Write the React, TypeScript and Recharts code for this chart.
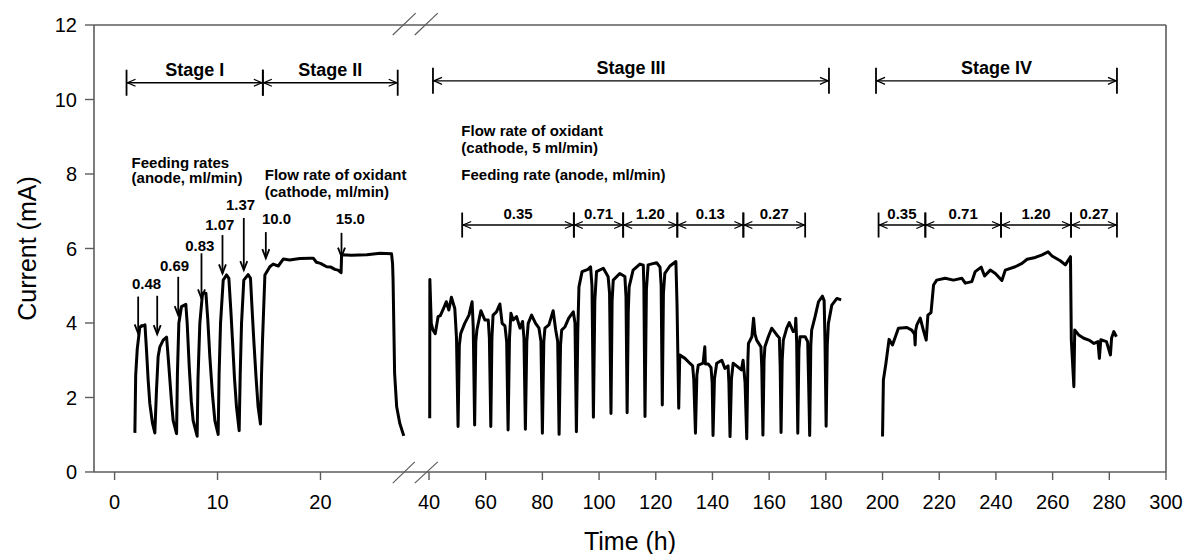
import { Label, Line, LineChart, ReferenceDot, ReferenceLine, XAxis, YAxis } from "recharts";

type Pt = [number, number];

// Stage I + II (left part of the broken time axis), [time h, current mA]
const stageOneTwo: Pt[] = [
    [1.97, 1.05], [2.05, 2.6], [2.2, 3.3], [2.45, 3.89], [2.7, 3.92], [2.95, 3.95], [3.1, 3.27], [3.26, 2.47],
    [3.42, 1.84], [3.68, 1.31], [3.91, 1.05],
    [4.07, 2.2], [4.23, 3.1], [4.4, 3.36], [4.72, 3.54], [5.05, 3.62], [5.2, 3.1], [5.37, 2.47], [5.55, 1.8],
    [5.69, 1.38], [6.02, 1.03],
    [6.1, 2.6], [6.24, 3.99], [6.5, 4.44], [6.92, 4.5], [7.05, 4.0], [7.25, 2.83], [7.45, 1.9], [7.63, 1.38],
    [8.02, 0.96],
    [8.1, 2.5], [8.28, 3.99], [8.54, 4.8], [8.87, 4.8], [9.05, 4.1], [9.25, 3.1], [9.5, 2.1], [9.74, 1.38],
    [10.06, 1.01],
    [10.15, 2.6], [10.29, 3.99], [10.55, 5.15], [10.87, 5.29], [11.1, 5.2], [11.3, 4.3], [11.45, 3.54],
    [11.65, 2.5], [11.84, 1.75], [12.1, 1.11],
    [12.2, 2.6], [12.33, 3.99], [12.55, 5.15], [12.97, 5.3], [13.2, 5.2], [13.35, 4.4], [13.52, 3.54],
    [13.75, 2.5], [13.94, 1.75], [14.17, 1.29],
    [14.27, 2.6], [14.37, 3.54], [14.6, 5.29], [15.08, 5.51], [15.4, 5.58], [15.9, 5.53], [16.4, 5.72],
    [17.0, 5.69], [18.0, 5.73], [19.0, 5.74], [19.3, 5.74], [19.6, 5.63], [20.0, 5.6], [20.6, 5.51],
    [21.0, 5.5], [21.4, 5.44], [21.7, 5.42], [22.0, 5.35], [22.05, 5.83], [23.0, 5.82], [24.5, 5.83],
    [25.8, 5.87], [26.9, 5.86], [27.0, 5.6], [27.05, 5.15], [27.2, 2.65], [27.4, 1.75], [27.7, 1.31],
    [28.09, 0.97],
];

// Stage III
const stageThree: Pt[] = [
    [40.25, 1.44], [40.3, 5.17], [40.8, 3.99], [41.4, 3.81], [42.2, 3.71], [43.2, 4.17], [44.0, 4.2],
    [44.9, 4.35], [46.1, 4.57], [47.0, 4.35], [47.9, 4.69], [49.1, 4.39], [49.7, 3.6], [50.25, 1.22],
    [50.7, 3.4], [51.2, 3.72], [52.6, 3.99], [54.1, 4.21], [55.2, 4.57], [55.6, 3.9], [56.1, 1.26],
    [56.5, 3.5], [56.9, 3.81], [58.3, 4.33], [59.7, 4.08], [60.9, 4.08], [61.3, 3.6], [61.8, 1.22],
    [62.2, 3.6], [62.6, 4.21], [63.8, 4.3], [65.0, 4.51], [65.8, 3.99], [66.8, 3.92], [67.4, 3.5],
    [67.9, 1.13], [68.4, 3.6], [68.9, 4.26], [69.7, 4.08], [70.9, 4.17], [72.1, 3.86], [73.0, 4.04],
    [73.5, 3.6], [74.0, 1.15], [74.5, 3.5], [75.0, 3.99], [76.2, 4.21], [77.6, 3.99], [78.8, 3.86],
    [79.5, 3.5], [80.0, 1.04], [80.5, 3.5], [80.9, 3.86], [82.3, 3.95], [83.8, 4.33], [84.7, 3.81],
    [85.4, 3.5], [85.9, 1.01], [86.4, 3.4], [86.8, 3.81], [88.0, 3.9], [89.3, 4.13], [90.9, 4.3],
    [91.5, 4.0], [92.0, 1.08], [92.5, 3.8], [92.9, 4.97], [94.0, 5.38], [96.1, 5.44], [97.0, 5.51],
    [97.5, 5.0], [98.0, 1.47], [98.5, 4.6], [99.1, 5.38], [101.5, 5.47], [103.2, 5.24], [103.7, 4.8],
    [104.2, 1.57], [104.6, 4.6], [105.0, 5.15], [107.3, 5.33], [109.1, 5.25], [109.5, 4.7], [109.9, 1.59],
    [110.3, 4.3], [110.6, 4.97], [112.0, 5.42], [114.4, 5.58], [115.6, 5.55], [115.8, 5.0], [116.2, 1.49],
    [116.7, 4.9], [117.3, 5.56], [120.3, 5.62], [121.5, 5.5], [121.9, 5.0], [122.3, 1.8], [122.7, 4.8],
    [123.2, 5.33], [125.0, 5.53], [127.1, 5.65], [127.5, 4.5], [128.1, 1.71], [128.4, 2.9], [128.5, 3.14],
    [130.3, 3.05], [132.0, 2.92], [133.0, 2.85], [133.4, 2.5], [134.0, 1.04], [134.5, 2.6], [135.0, 2.87],
    [136.7, 2.92], [137.3, 3.36], [137.5, 2.9], [138.5, 2.9], [139.5, 2.8], [139.9, 2.4], [140.2, 0.98],
    [140.7, 2.5], [141.5, 2.92], [143.3, 3.0], [144.4, 2.78], [145.5, 2.85], [145.8, 2.4], [146.2, 0.95],
    [146.7, 2.5], [147.3, 2.92], [148.5, 2.85], [150.2, 2.74], [150.8, 3.0], [151.5, 2.4], [152.1, 0.89],
    [152.5, 3.0], [152.7, 3.45], [153.9, 3.63], [154.5, 4.13], [155.0, 3.7], [155.6, 3.54], [157.1, 3.36],
    [157.4, 2.8], [157.8, 0.99], [158.2, 3.0], [158.5, 3.36], [159.7, 3.63], [160.9, 3.86], [162.7, 3.68],
    [163.6, 3.6], [163.9, 2.8], [164.2, 1.06], [164.6, 3.0], [165.0, 3.54], [166.2, 3.86], [167.1, 4.01],
    [168.5, 3.77], [169.2, 3.8], [169.4, 4.13], [169.7, 3.5], [170.1, 1.04], [170.5, 3.3], [170.9, 3.63],
    [172.7, 3.63], [173.6, 3.5], [173.9, 2.5], [174.3, 0.98], [174.7, 3.4], [175.0, 3.81], [176.2, 4.17],
    [177.4, 4.57], [178.8, 4.72], [179.4, 4.6], [179.7, 3.5], [180.1, 1.23], [180.5, 3.4], [180.9, 3.99],
    [182.1, 4.48], [183.9, 4.66], [185.4, 4.62],
];

// Stage IV
const stageFour: Pt[] = [
    [200.0, 0.95], [200.3, 2.47], [201.2, 2.92], [202.3, 3.56], [203.5, 3.41], [205.6, 3.86], [208.6, 3.88],
    [210.3, 3.81], [211.3, 3.7], [211.5, 3.41], [211.7, 3.8], [212.1, 3.95], [213.3, 4.13], [214.4, 3.81],
    [215.4, 3.54], [216.0, 4.21], [217.1, 4.28], [218.0, 5.02], [219.1, 5.15], [222.1, 5.2], [225.0, 5.15],
    [228.0, 5.2], [229.2, 5.07], [231.5, 5.11], [232.7, 5.38], [234.8, 5.5], [236.0, 5.26], [238.0, 5.42],
    [239.8, 5.33], [242.1, 5.14], [243.3, 5.42], [246.8, 5.51], [249.2, 5.6], [251.0, 5.71], [253.9, 5.76],
    [256.3, 5.83], [258.4, 5.91], [259.8, 5.8], [262.7, 5.67], [264.5, 5.56], [266.3, 5.78], [266.6, 3.54],
    [267.5, 2.29], [267.8, 3.81], [269.2, 3.68], [271.0, 3.59], [272.8, 3.54], [274.6, 3.45], [276.0, 3.5],
    [276.5, 3.05], [277.0, 3.55], [279.0, 3.5], [280.4, 3.14], [280.8, 3.6], [281.6, 3.77], [282.5, 3.63],
];

const leftTicks = [0, 10, 20];
const rightTicks = [40, 60, 80, 100, 120, 140, 160, 180, 200, 220, 240, 260, 280, 300];
const currentTicks = [0, 2, 4, 6, 8, 10, 12];

// stage spans: [start h, end h, label]
const stagesLeft: [number, number, string][] = [[1.16, 14.4, "Stage I"], [14.4, 27.5, "Stage II"]];
const stagesRight: [number, number, string][] = [[41.4, 181.1, "Stage III"], [197.7, 282.7, "Stage IV"]];

// anode feeding rate windows inside stage III / IV
const stage3Bounds = [51.7, 91.1, 108.5, 127.6, 150.9, 172.7];
const stage3Rates = ["0.35", "0.71", "1.20", "0.13", "0.27"];
const stage4Bounds = [198.6, 215.1, 241.8, 266.5, 282.7];
const stage4Rates = ["0.35", "0.71", "1.20", "0.27"];

// down arrows: [time h, top mA, tip mA]
const feedArrows: [number, number, number][] = [
    [2.29, 4.71, 3.72], [4.14, 4.73, 3.7], [6.18, 5.24, 4.21], [8.44, 5.87, 4.66],
    [10.48, 6.36, 5.33], [12.55, 6.82, 5.42], [14.69, 6.44, 5.74], [22.04, 6.42, 5.78],
];
const feedLabels: [string, number, number][] = [
    ["0.48", 3.1, 4.91], ["0.69", 5.83, 5.4], ["0.83", 8.28, 5.94], ["1.07", 10.22, 6.5],
    ["1.37", 12.24, 7.03], ["10.0", 15.73, 6.66], ["15.0", 22.9, 6.66],
];

const notesLeft: [string, number, number][] = [
    ["Feeding rates", 1.65, 8.15], ["(anode, ml/min)", 1.65, 7.75],
    ["Flow rate of oxidant", 14.59, 7.84], ["(cathode, ml/min)", 14.59, 7.39],
];
const notesRight: [string, number, number][] = [
    ["Flow rate of oxidant", 51.4, 9.03], ["(cathode, 5 ml/min)", 51.4, 8.56],
    ["Feeding rate (anode, ml/min)", 51.4, 7.84],
];

// axis break marks "//" (left time axis units)
const breakMarks: [number, number, number, number][] = [
    [27.02, 11.73, 29.25, 12.32], [29.16, 11.73, 31.39, 12.32],
    [27.02, -0.3, 29.16, 0.27], [29.16, -0.3, 31.39, 0.27],
];

const toRows = (pts: Pt[]) => pts.map(([t, v]) => ({ t, v }));

const FONT = "'Liberation Sans', Arial, Helvetica, sans-serif";
const AXIS = "#5c5c5c";
const INK = "#000";
const TICK = { fill: INK, fontSize: 20, fontFamily: FONT };

function SpanArrow(props: any) {
    const { x1, x2, y1, text, bar, fontSize } = props;
    const y = y1;
    return (
        <g stroke={INK} fill="none">
            <line x1={x1} y1={y} x2={x2} y2={y} strokeWidth={1.3} />
            <line x1={x1} y1={y - bar} x2={x1} y2={y + bar} strokeWidth={1.8} />
            <line x1={x2} y1={y - bar} x2={x2} y2={y + bar} strokeWidth={1.8} />
            <path d={`M${x1 + 9},${y - 3.5} L${x1 + 1},${y} L${x1 + 9},${y + 3.5}`} strokeWidth={1.3} />
            <path d={`M${x2 - 9},${y - 3.5} L${x2 - 1},${y} L${x2 - 9},${y + 3.5}`} strokeWidth={1.3} />
            <text x={(x1 + x2) / 2} y={y - 6.5} textAnchor="middle" fill={INK} stroke="none"
                fontFamily={FONT} fontWeight="bold" fontSize={fontSize}>{text}</text>
        </g>
    );
}

function DropArrow(props: any) {
    const { x1, y1, y2 } = props;
    return (
        <g stroke={INK} fill="none" strokeWidth={1.8}>
            <line x1={x1} y1={y1} x2={x1} y2={y2} />
            <path d={`M${x1 - 3.5},${y2 - 9} L${x1},${y2} L${x1 + 3.5},${y2 - 9}`} />
        </g>
    );
}

const noteText = (text: string, anchor: "start" | "middle") => (p: any) => (
    <text x={p.cx} y={p.cy} textAnchor={anchor} fill={INK} fontFamily={FONT} fontWeight="bold" fontSize={15}>
        {text}
    </text>
);

function YTitle(props: any) {
    const { viewBox } = props;
    const cx = viewBox.x + 27;
    const cy = viewBox.y + viewBox.height / 2;
    return (
        <text x={cx} y={cy} transform={`rotate(-90 ${cx} ${cy})`} textAnchor="middle" dominantBaseline="central"
            fill={INK} fontFamily={FONT} fontSize={25}>Current (mA)</text>
    );
}

function XTitle(props: any) {
    const { viewBox } = props;
    return (
        <text x={viewBox.x + viewBox.width / 2} y={viewBox.y + 78} textAnchor="middle"
            fill={INK} fontFamily={FONT} fontSize={25}>Time (h)</text>
    );
}

function spanLines(bounds: number[], labels: string[]) {
    return labels.map((lab, i) => [bounds[i], bounds[i + 1], lab] as [number, number, string]);
}

export default function App() {
    const subSpans = [...spanLines(stage3Bounds, stage3Rates), ...spanLines(stage4Bounds, stage4Rates)];

    return (
        <div style={{ position: "absolute", left: 0, top: 0, background: "#fff" }}>
            <LineChart width={1186} height={554} margin={{ top: 25, right: 20, bottom: 82, left: 0 }}>
                <XAxis xAxisId="a" type="number" dataKey="t" domain={[-2, 28.5]} ticks={leftTicks} interval={0}
                    padding={{ left: 0, right: 758 }} height={0.01} axisLine={false}
                    tickLine={{ stroke: AXIS, strokeWidth: 1.4 }} tickSize={8} tickMargin={15} tick={TICK} />
                <XAxis xAxisId="b" type="number" dataKey="t" domain={[40, 300]} ticks={rightTicks} interval={0}
                    padding={{ left: 335, right: 0 }} height={0.01}
                    axisLine={{ stroke: AXIS, strokeWidth: 1.6 }}
                    tickLine={{ stroke: AXIS, strokeWidth: 1.4 }} tickSize={8} tickMargin={15} tick={TICK}>
                    <Label content={XTitle} />
                </XAxis>
                <YAxis type="number" domain={[0, 12]} ticks={currentTicks} interval={0} width={94}
                    axisLine={{ stroke: AXIS, strokeWidth: 1.6 }} tickLine={{ stroke: AXIS, strokeWidth: 1.4 }}
                    tickSize={9} tickMargin={8} tick={TICK}>
                    <Label content={YTitle} />
                </YAxis>

                <ReferenceLine xAxisId="b" y={12} stroke={AXIS} strokeWidth={1.6} />
                <ReferenceLine xAxisId="b" x={300} stroke={AXIS} strokeWidth={1.6} />
                {breakMarks.map(([ta, va, tb, vb], i) => (
                    <ReferenceLine key={`brk${i}`} xAxisId="a" ifOverflow="visible" stroke={AXIS} strokeWidth={1.2}
                        segment={[{ x: ta, y: va }, { x: tb, y: vb }]} />
                ))}

                <Line xAxisId="a" data={toRows(stageOneTwo)} dataKey="v" type="linear" stroke={INK} strokeWidth={3}
                    strokeLinejoin="round" dot={false} isAnimationActive={false} />
                <Line xAxisId="b" data={toRows(stageThree)} dataKey="v" type="linear" stroke={INK} strokeWidth={3}
                    strokeLinejoin="round" dot={false} isAnimationActive={false} />
                <Line xAxisId="b" data={toRows(stageFour)} dataKey="v" type="linear" stroke={INK} strokeWidth={3}
                    strokeLinejoin="round" dot={false} isAnimationActive={false} />

                {stagesLeft.map(([a, b, lab]) => (
                    <ReferenceLine key={lab} xAxisId="a" ifOverflow="visible" segment={[{ x: a, y: 10.45 }, { x: b, y: 10.45 }]}
                        shape={(p: any) => <SpanArrow {...p} text={lab} bar={13} fontSize={18} />} />
                ))}
                {stagesRight.map(([a, b, lab]) => (
                    <ReferenceLine key={lab} xAxisId="b" ifOverflow="visible" segment={[{ x: a, y: 10.5 }, { x: b, y: 10.5 }]}
                        shape={(p: any) => <SpanArrow {...p} text={lab} bar={13} fontSize={18} />} />
                ))}
                {subSpans.map(([a, b, lab], i) => (
                    <ReferenceLine key={`sub${i}`} xAxisId="b" ifOverflow="visible" segment={[{ x: a, y: 6.63 }, { x: b, y: 6.63 }]}
                        shape={(p: any) => <SpanArrow {...p} text={lab} bar={12.5} fontSize={15} />} />
                ))}
                {feedArrows.map(([t, top, tip], i) => (
                    <ReferenceLine key={`fa${i}`} xAxisId="a" ifOverflow="visible" segment={[{ x: t, y: top }, { x: t, y: tip }]}
                        shape={(p: any) => <DropArrow {...p} />} />
                ))}
                {feedLabels.map(([txt, t, v], i) => (
                    <ReferenceDot key={`fl${i}`} xAxisId="a" x={t} y={v} ifOverflow="visible" shape={noteText(txt, "middle")} />
                ))}
                {notesLeft.map(([txt, t, v], i) => (
                    <ReferenceDot key={`nl${i}`} xAxisId="a" x={t} y={v} ifOverflow="visible" shape={noteText(txt, "start")} />
                ))}
                {notesRight.map(([txt, t, v], i) => (
                    <ReferenceDot key={`nr${i}`} xAxisId="b" x={t} y={v} ifOverflow="visible" shape={noteText(txt, "start")} />
                ))}
            </LineChart>
        </div>
    );
}
